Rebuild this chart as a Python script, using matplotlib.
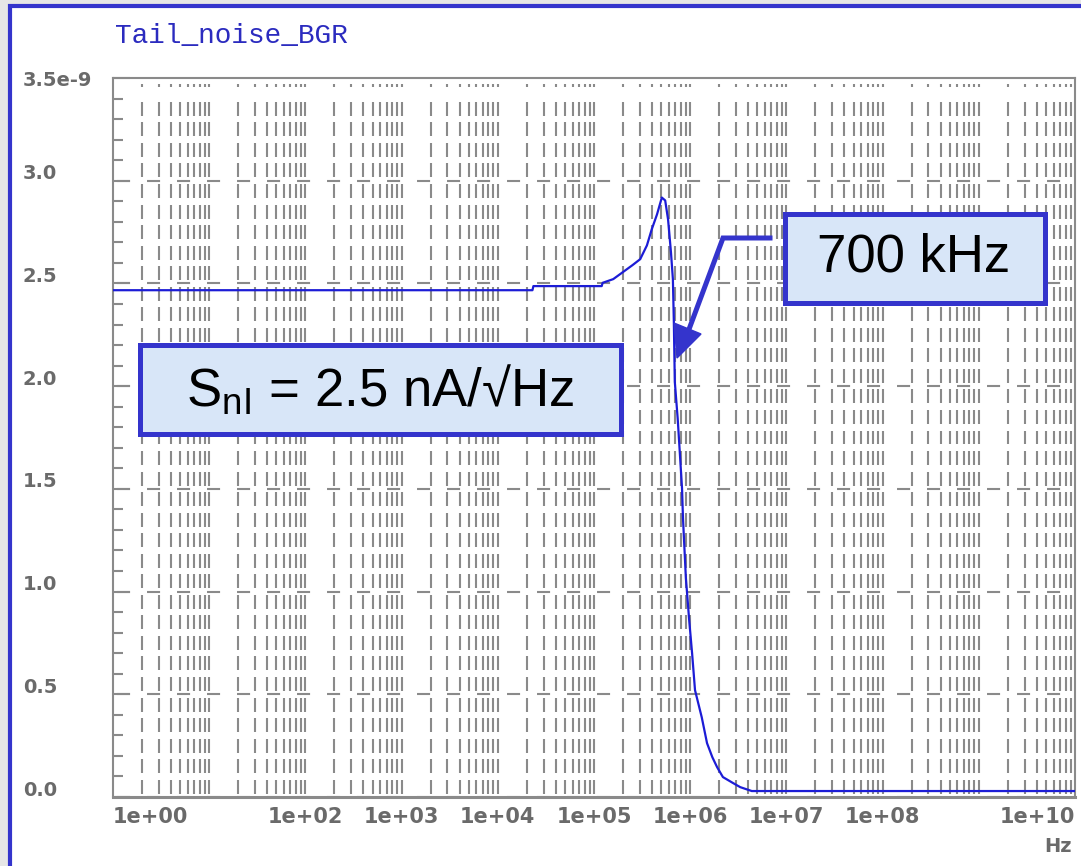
#!/usr/bin/env python
"""Plot tail current noise spectrum of the bandgap reference."""

import numpy as np
import matplotlib as mpl
import matplotlib.pyplot as plt
import matplotlib.transforms as mtransforms
from matplotlib.collections import LineCollection

mpl.use('Agg')

# noise spectrum
log_freq = [0.0, 4.36, 4.37, 5.08, 5.09, 5.20, 5.30, 5.40, 5.48, 5.55, 5.60,
            5.655, 5.705, 5.74, 5.77, 5.80, 5.82, 5.83, 5.84, 5.87, 5.915,
            5.925, 5.955, 5.99, 6.02, 6.05, 6.12, 6.175, 6.23, 6.28, 6.34,
            6.445, 6.52, 6.64, 10.0]
noise_na = [2.467, 2.467, 2.487, 2.487, 2.503, 2.521, 2.555, 2.589, 2.618,
            2.685, 2.763, 2.836, 2.918, 2.904, 2.811, 2.652, 2.521, 2.312,
            2.021, 1.842, 1.503, 1.357, 1.066, 0.858, 0.698, 0.520, 0.388,
            0.262, 0.194, 0.145, 0.097, 0.068, 0.048, 0.029, 0.029]

# axis ticks and labels
xticks = [1e0, 1e2, 1e3, 1e4, 1e5, 1e6, 1e7, 1e8, 1e10]
xlabels = ['1e+00', '1e+02', '1e+03', '1e+04', '1e+05', '1e+06', '1e+07',
           '1e+08', '1e+10']
yticks = [0.0, 0.5, 1.0, 1.5, 2.0, 2.5, 3.0, 3.5]
ylabels = ['0.0', '0.5', '1.0', '1.5', '2.0', '2.5', '3.0', '3.5e-9']

# figure size in pixels
W, H = 1081, 866
BLUE = '#3434cc'
GRID = '#8a8a8a'


def fx(px):
    return px / W


def fy(py):
    return 1 - py / H


def main():
    """Main program called during execution."""

    plt.rcParams['lines.scale_dashes'] = False
    plt.rcParams['mathtext.fontset'] = 'custom'
    plt.rcParams['mathtext.rm'] = 'Liberation Sans'

    # initialize figure
    fig = plt.figure(figsize=(W/100, H/100), dpi=100, facecolor='#e6e6e6')
    fig.add_artist(mpl.patches.Rectangle(
        (fx(10), -0.1), 1.2, fy(5.5) + 0.1, transform=fig.transFigure,
        facecolor='white', edgecolor=BLUE, lw=3, zorder=-10))

    ax = fig.add_axes([fx(113), fy(797), fx(1075) - fx(113),
                       fy(78) - fy(797)])
    ax.set_xscale('log')
    ax.set_xlim(1, 1e10)
    ax.set_ylim(0, 3.5e-9)

    # dashed vertical grid, one dash per 0.1 row
    xs = [k * 10.0**n for n in range(10) for k in range(1, 10)][1:]
    segs = []
    for x in xs:
        for j in range(34):
            segs.append([(x, (j+0.16)*1e-10), (x, (j+0.84)*1e-10)])
        segs.append([(x, 3.458e-9), (x, 3.472e-9)])
    ax.add_collection(LineCollection(segs, colors=GRID, linewidths=1.5,
                                     zorder=1))

    # dashed horizontal grid every 0.5
    for y in yticks[:-1]:
        ax.axhline(y*1e-9, color=GRID, lw=1.5, ls=(18.7, (9.4, 12.2)),
                   zorder=1)

    # noise curve
    ax.plot(10**np.array(log_freq), np.array(noise_na)*1e-9,
            color='#1c1cd6', lw=1.6, zorder=3)

    # spines
    for side in ax.spines:
        ax.spines[side].set_color(GRID)
        ax.spines[side].set_linewidth(1.5)
    ax.spines['bottom'].set_linewidth(2.2)

    # x ticks
    ax.set_xticks(xticks)
    ax.set_xticklabels(xlabels)
    ax.xaxis.set_minor_locator(mpl.ticker.NullLocator())
    ax.tick_params(axis='x', length=0, pad=7, labelsize=15,
                   labelcolor='#6a6a6a')
    labels = ax.get_xticklabels()
    labels[0].set_ha('left')
    labels[-1].set_ha('right')
    for label in labels:
        label.set_fontweight('bold')

    # y ticks
    ax.set_yticks([v*1e-9 for v in yticks])
    ax.set_yticklabels(ylabels)
    ax.set_yticks(np.arange(0, 35)*1e-10, minor=True)
    ax.tick_params(axis='y', which='major', direction='in', length=12,
                   width=1.5, color=GRID, pad=65, labelsize=14,
                   labelcolor='#6a6a6a')
    ax.tick_params(axis='y', which='minor', direction='in', length=7,
                   width=1.5, color=GRID)
    offset = mtransforms.ScaledTranslation(0, 9/100, fig.dpi_scale_trans)
    for i, label in enumerate(ax.get_yticklabels()):
        label.set_ha('left')
        label.set_fontweight('bold')
        if i < len(yticks) - 1:
            label.set_transform(label.get_transform() + offset)

    # title and unit
    fig.text(fx(115), fy(36), 'Tail_noise_BGR', family='Liberation Mono',
             color='#2b2bbf', size=20, va='center')
    fig.text(fx(1072), fy(847), 'Hz', ha='right', va='center', size=14,
             color='#6a6a6a', fontweight='bold')

    # annotation boxes
    for x0, y0, x1, y1 in [(140, 345, 621, 434), (785, 214, 1045, 303)]:
        fig.add_artist(mpl.patches.Rectangle(
            (fx(x0), fy(y1)), fx(x1) - fx(x0), fy(y0) - fy(y1),
            transform=fig.transFigure, facecolor='#d8e6f8', edgecolor=BLUE,
            lw=3.6, zorder=5))
    fig.text(fx(380), fy(390), r'S$_{\mathregular{nI}}$ = 2.5 nA/√Hz',
             family=['Liberation Sans', 'DejaVu Sans'], size=38,
             ha='center', va='center', zorder=6)
    fig.text(fx(914), fy(258), '700 kHz',
             family=['Liberation Sans', 'DejaVu Sans'], size=38,
             ha='center', va='center', zorder=6)

    # arrow to the cutoff
    fig.add_artist(mpl.lines.Line2D(
        [fx(770), fx(723), fx(688)], [fy(238), fy(238), fy(332)],
        color=BLUE, lw=3.6, solid_joinstyle='miter', zorder=5))
    fig.add_artist(mpl.patches.Polygon(
        [(fx(674), fy(323)), (fx(701), fy(334)), (fx(677), fy(358))],
        closed=True, transform=fig.transFigure, facecolor=BLUE,
        edgecolor=BLUE, zorder=5))

    fig.savefig('out.png', dpi=100, facecolor=fig.get_facecolor())


if __name__ == '__main__':
    main()
